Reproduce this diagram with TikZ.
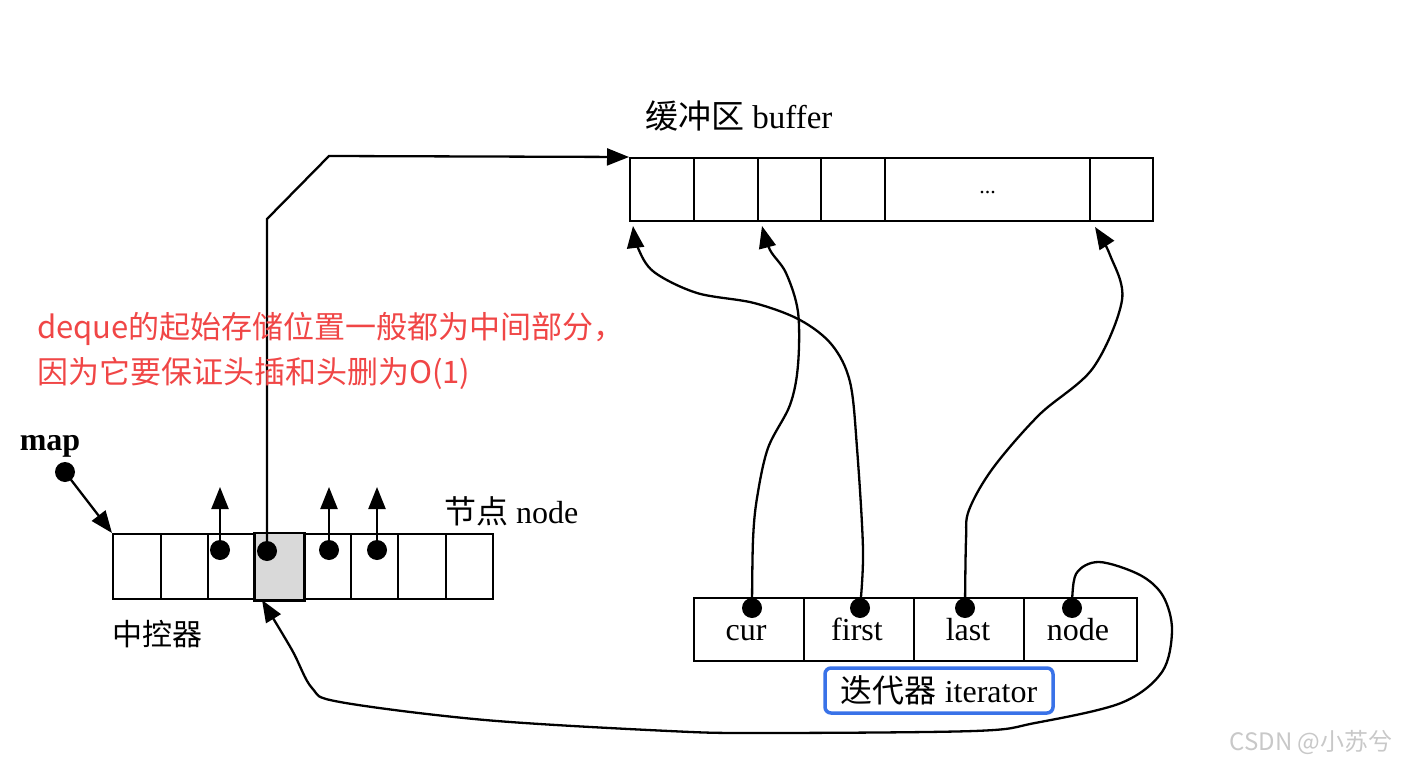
\documentclass[tikz,border=0pt]{standalone}
\usepackage{fontspec}
\setmainfont{Liberation Serif}
\newfontfamily\cjk{Noto Sans CJK SC}
\usetikzlibrary{arrows.meta}
\definecolor{redtxt}{RGB}{240,70,70}
\definecolor{bluebox}{RGB}{57,114,232}
\definecolor{wmark}{RGB}{200,200,200}
\tikzset{
  cell/.style={draw, line width=2.4pt, inner sep=0pt, anchor=north west},
  ptr/.style={line width=2.3pt, -{Triangle[length=22pt,width=17pt]}},
  dotnode/.style={circle, fill=black, minimum size=20pt, inner sep=0pt},
  lbl/.style={inner sep=0pt, font=\fontsize{32}{36}\selectfont},
  itlbl/.style={inner sep=0pt, anchor=base, font=\fontsize{32}{36}\selectfont},
  smoothcurve/.style={smooth, tension=0.55}
}
\begin{document}
\begin{tikzpicture}[x=1pt,y=-1pt]
\useasboundingbox (0,0) rectangle (1407,767);

% ---------- buffer ----------
\foreach \i/\a/\b in {1/629/693,2/693/757,3/757/820,4/820/884,5/884/1089,6/1089/1152}{
  \pgfmathsetmacro\w{\b-\a}
  \node[cell, minimum width=\w pt, minimum height=63pt] (b\i) at (\a,157) {};
}
\node[lbl, font=\fontsize{22}{24}\selectfont] (dots) at ([yshift=-3pt]b5.center) {...};
\node[lbl, anchor=west, font=\fontsize{33}{36}\selectfont] (buflabel) at (645,116) {{\cjk 缓冲区} buffer};

% ---------- map (中控器) ----------
\foreach \i in {1,...,8}{
  \pgfmathsetmacro\xa{112+47.5*(\i-1)}
  \node[cell, minimum width=47.5pt, minimum height=65pt] (m\i) at (\xa,533) {};
}
\fill[gray!30] ([shift={(1pt,-1pt)}]m4.south west) rectangle ([shift={(-1pt,1pt)}]m4.north east);
\draw[line width=2.4pt] (m4.south west) rectangle (m4.north east);

\node[dotnode] (dm3) at (220,550) {};
\node[dotnode] (dm4) at (267,551) {};
\node[dotnode] (dm5) at (329,550) {};
\node[dotnode] (dm6) at (377,550) {};
\coordinate (u3) at (220,487);
\coordinate (u5) at (329,487);
\coordinate (u6) at (377,487);
\draw[ptr] (dm3.center) -- (u3);
\draw[ptr] (dm5.center) -- (u5);
\draw[ptr] (dm6.center) -- (u6);

\node[lbl, font=\bfseries\fontsize{32}{34}\selectfont] (maplbl) at (50,446) {map};
\node[dotnode] (mapdot) at (65,472) {};
\draw[ptr] (mapdot.center) -- (m1.north west);

\node[lbl, anchor=west] (nodelbl) at (444,511) {{\cjk 节点} node};
\node[lbl, anchor=west, font=\cjk\fontsize{30}{34}\selectfont] (ctrl) at (112,634) {中控器};

% map -> buffer
\coordinate (c1) at (267,219);
\coordinate (c2) at (329,156);
\draw[ptr] (dm4.center) -- (c1) -- (c2) -- (b1.north west);

% ---------- iterator ----------
\foreach \i/\a/\b in {1/693/803,2/803/913,3/913/1023,4/1023/1136}{
  \pgfmathsetmacro\w{\b-\a}
  \node[cell, minimum width=\w pt, minimum height=63pt] (it\i) at (\a,597) {};
}
\node[itlbl] (tcur)   at (746,640) {cur};
\node[itlbl] (tfirst) at (857,640) {first};
\node[itlbl] (tlast)  at (968,640) {last};
\node[itlbl] (tnode)  at (1078,640) {node};
\node[dotnode] (dcur)   at (752,608) {};
\node[dotnode] (dfirst) at (860,608) {};
\node[dotnode] (dlast)  at (965,608) {};
\node[dotnode] (dnode)  at (1072,608) {};

\node[draw=bluebox, line width=3.5pt, rounded corners=6pt, minimum width=228pt, minimum height=45pt, inner sep=0pt, font=\fontsize{32}{36}\selectfont] (itlabel) at (939,690.5) {{\cjk 迭代器} iterator};

% ---------- pointers to buffer ----------
\coordinate (tipfirst) at (633,226);
\coordinate (tipcur) at (762,226);
\coordinate (tiplast) at (1095,227);
\draw[ptr] plot[smoothcurve] coordinates {(dfirst.center) (863,550) (857,448) (850,382) (832,345) (800,320) (754,303) (697,293) (654,272) (638,248) (tipfirst)};
\draw[ptr] plot[smoothcurve] coordinates {(dcur.center) (753,540) (757,498) (768,448) (790,405) (798,365) (798,312) (786,273) (770,250) (tipcur)};
\draw[ptr] plot[smoothcurve] coordinates {(dlast.center) (966,540) (969,510) (993,468) (1039,415) (1093,368) (1122,300) (1110,255) (tiplast)};

% ---------- node pointer back to map ----------
\coordinate (tipmap) at (262,600);
\draw[ptr] plot[smoothcurve] coordinates {(dnode.center) (1076,574) (1099,562) (1140,575) (1163,596) (1172,630) (1162,672) (1121,703) (1035,723) (974,731) (760,733) (669,731) (485,720) (340,702) (312,688) (292,650) (tipmap)};

% ---------- note ----------
\node[text=redtxt, align=left, anchor=north west, inner sep=0pt, font=\cjk\fontsize{31}{45}\selectfont] (note) at (37,312) {deque的起始存储位置一般都为中间部分，\\因为它要保证头插和头删为O(1)};

% ---------- watermark ----------
\node[text=wmark, inner sep=0pt, font=\cjk\fontsize{24}{26}\selectfont] (wm) at (1311,742) {CSDN @小苏兮};
\end{tikzpicture}
\end{document}
